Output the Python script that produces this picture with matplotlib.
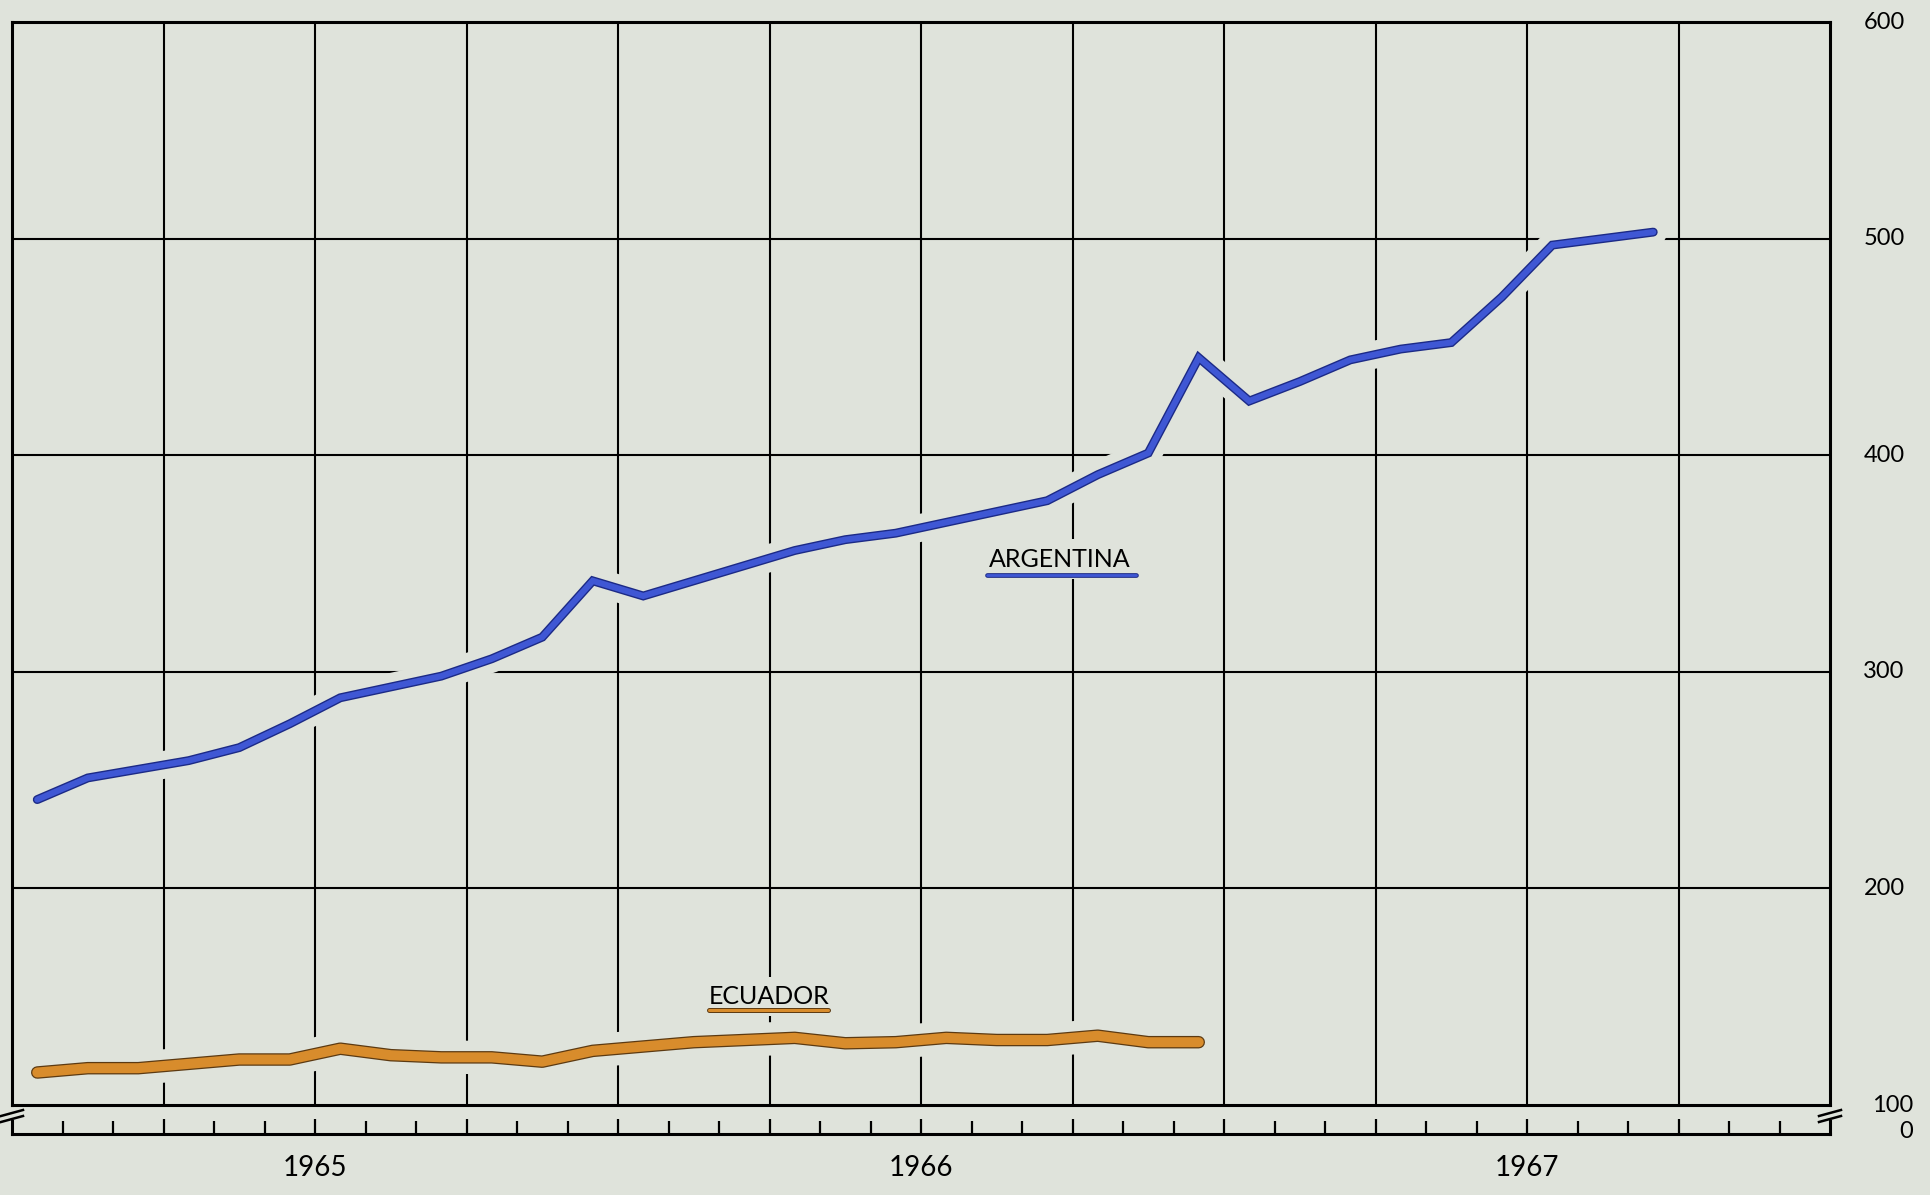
import numpy as np
import matplotlib
matplotlib.use("Agg")
import matplotlib.pyplot as plt
import matplotlib.patheffects as pe
import matplotlib.transforms as mtransforms
from matplotlib.lines import Line2D

# monthly values, first point = January 1965
argentina = [241, 251, 255, 259, 265, 276, 288, 293, 298, 306, 316, 342,
             335, 342, 349, 356, 361, 364, 369, 374, 379, 391, 401, 445,
             425, 434, 444, 449, 452, 473, 497, 500, 503]
ecuador = [115, 117, 117, 119, 121, 121, 126, 123, 122, 122, 120, 125,
           127, 129, 130, 131, 128.5, 129, 131, 130, 130, 132, 129, 129]
years = ['1965', '1966', '1967']
y_labels = [200, 300, 400, 500, 600]

BG = '#dfe3db'
ARG_FILL = '#3f57d4'
ARG_EDGE = '#1c2a86'
ECU_FILL = '#d88c2c'
ECU_EDGE = '#5c3a12'

W, H = 1930, 1195
def fx(px):
    return px / W
def fy(py):
    return 1 - py / H

plt.rcParams['font.family'] = ['Lato', 'DejaVu Sans']

fig = plt.figure(figsize=(19.3, 11.95), dpi=100)
fig.patch.set_facecolor(BG)

# main chart area (100 .. 600)
ax = fig.add_axes([fx(12), fy(1105), fx(1830) - fx(12), fy(22) - fy(1105)])
ax.set_facecolor(BG)
ax.set_xlim(0, 36)
ax.set_ylim(100, 600)
ax.set_xticks(np.arange(3, 36, 3))
ax.set_yticks([200, 300, 400, 500])
ax.grid(True, color='black', linewidth=1.5, zorder=1)
ax.tick_params(length=0, labelbottom=False, labelleft=False)
for s in ax.spines.values():
    s.set_linewidth(2.2)

x_arg = np.arange(len(argentina)) + 0.5
x_ecu = np.arange(len(ecuador)) + 0.5

ax.plot(x_arg, argentina, color=ARG_FILL, lw=4.4, zorder=3,
        solid_capstyle='round', solid_joinstyle='miter',
        path_effects=[pe.Stroke(linewidth=20, foreground=BG),
                      pe.Stroke(linewidth=6.4, foreground=ARG_EDGE), pe.Normal()])
ax.plot(x_ecu, ecuador, color=ECU_FILL, lw=7.2, zorder=3,
        solid_capstyle='round', solid_joinstyle='round',
        path_effects=[pe.Stroke(linewidth=24, foreground=BG),
                      pe.Stroke(linewidth=9.0, foreground=ECU_EDGE), pe.Normal()])

# series labels with underline in the series colour
ax.text(20.75, 352, 'ARGENTINA', fontsize=18, ha='center', va='center', zorder=4,
        bbox=dict(facecolor=BG, edgecolor='none', pad=6))
ax.plot([19.3, 22.25], [344.5, 344.5], color=ARG_FILL, lw=2.0, zorder=4,
        solid_capstyle='round',
        path_effects=[pe.Stroke(linewidth=3.4, foreground=ARG_EDGE), pe.Normal()])
ax.text(15.0, 150, 'ECUADOR', fontsize=18, ha='center', va='center', zorder=4,
        bbox=dict(facecolor=BG, edgecolor='none', pad=6))
ax.plot([13.8, 16.15], [143.8, 143.8], color=ECU_FILL, lw=2.2, zorder=4,
        solid_capstyle='round',
        path_effects=[pe.Stroke(linewidth=3.6, foreground=ECU_EDGE), pe.Normal()])

# month strip below the axis break
sa = fig.add_axes([fx(12), fy(1134), fx(1830) - fx(12), fy(1121) - fy(1134)])
sa.set_facecolor('none')
sa.set_xlim(0, 36)
sa.set_ylim(0, 1)
sa.spines['top'].set_visible(False)
for s in ['left', 'right', 'bottom']:
    sa.spines[s].set_linewidth(2.2)
sa.set_xticks(np.arange(3, 36, 3))
sa.set_xticks([m for m in range(1, 36) if m % 3], minor=True)
sa.tick_params(axis='x', which='major', direction='in', length=11, width=1.6,
               labelbottom=False)
sa.tick_params(axis='x', which='minor', direction='in', length=9.5, width=1.6)
sa.tick_params(axis='y', left=False, labelleft=False)

# break marks
for xc in (12, 1830):
    for yc in (1113, 1119):
        fig.add_artist(Line2D([fx(xc - 11), fx(xc + 11)], [fy(yc + 3), fy(yc - 3)],
                              color='black', lw=1.8, transform=fig.transFigure))

# year labels centred under each year
tr = mtransforms.blended_transform_factory(sa.transData, fig.transFigure)
for i, yr in enumerate(years):
    sa.text(6 + 12 * i, fy(1168), yr, transform=tr, ha='center', va='center',
            fontsize=20)

# value labels at the right
tr2 = mtransforms.blended_transform_factory(fig.transFigure, ax.transData)
for v in y_labels:
    ax.text(fx(1884), v, str(v), transform=tr2, ha='center', va='center', fontsize=17)
ax.text(fx(1913), 100, '100', transform=tr2, ha='right', va='center', fontsize=17)
fig.text(fx(1913), fy(1132), '0', ha='right', va='center', fontsize=17)

fig.savefig('out.png', dpi=100, facecolor=BG)
